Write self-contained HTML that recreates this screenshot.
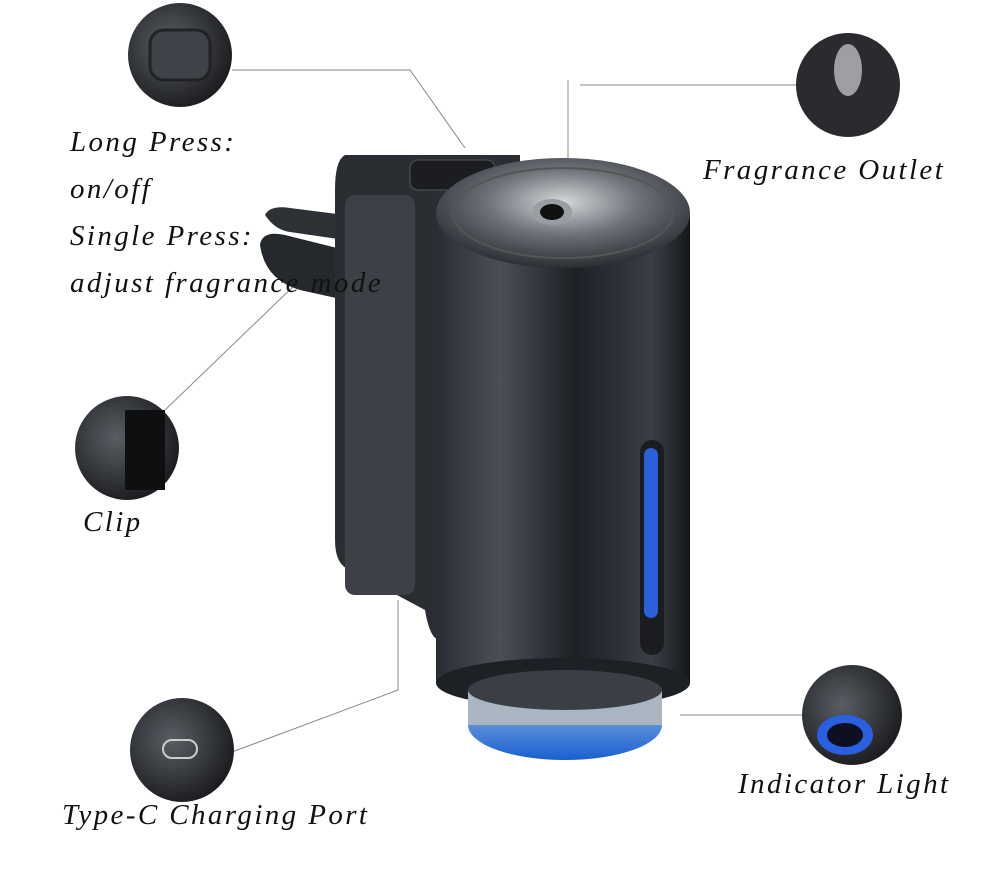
<!DOCTYPE html>
<html><head><style>
body{margin:0;background:#fff;}
.w{position:relative;width:1000px;height:875px;overflow:hidden;background:#fff;font-family:"Liberation Serif",serif;font-style:italic;color:#111;}
.t{position:absolute;font-size:29px;letter-spacing:2.4px;white-space:nowrap;}
</style></head><body><div class="w">
<svg width="1000" height="875" style="position:absolute;left:0;top:0">
<defs>
<linearGradient id="body" x1="0" x2="1">
<stop offset="0" stop-color="#2a2d33"/><stop offset="0.25" stop-color="#4a4f57"/><stop offset="0.55" stop-color="#1d2025"/><stop offset="0.85" stop-color="#3a3e45"/><stop offset="1" stop-color="#15171a"/></linearGradient>
<radialGradient id="top" cx="0.5" cy="0.4" r="0.6"><stop offset="0" stop-color="#d5d7da"/><stop offset="0.5" stop-color="#6d7178"/><stop offset="1" stop-color="#2b2e33"/></radialGradient>
<linearGradient id="blue" x1="0" y1="0" x2="0" y2="1"><stop offset="0" stop-color="#9fb4c8"/><stop offset="0.6" stop-color="#4d86d8"/><stop offset="1" stop-color="#1a5fd0"/></linearGradient>
<radialGradient id="c1" cx="0.4" cy="0.4" r="0.7"><stop offset="0" stop-color="#5a5e64"/><stop offset="1" stop-color="#141518"/></radialGradient>
</defs>
<g stroke="#888" stroke-width="1" fill="none">
<polyline points="232,70 410,70 465,148"/>
<line x1="568" y1="80" x2="568" y2="172"/><line x1="580" y1="85" x2="796" y2="85"/>
<line x1="165" y1="410" x2="300" y2="280"/>
<polyline points="232,752 398,690 398,600"/>
<line x1="680" y1="715" x2="802" y2="715"/>
</g>
<path d="M265,215 Q270,205 290,208 L345,215 L345,240 L290,232 Q275,230 265,215Z" fill="#2d3035"/>
<path d="M260,245 Q262,230 285,235 L345,250 L345,300 L300,290 Q265,280 260,245Z" fill="#25282c"/>
<path d="M345,155 L520,155 L520,640 L440,640 Q430,640 425,610 L350,570 Q335,565 335,540 L335,190 Q335,160 345,155Z" fill="#2a2d32"/>
<rect x="345" y="195" width="70" height="400" rx="10" fill="#3d4147"/>
<rect x="410" y="160" width="85" height="30" rx="8" fill="#1b1d21" stroke="#555" />
<rect x="436" y="213" width="254" height="470" fill="url(#body)"/>
<ellipse cx="563" cy="683" rx="127" ry="25" fill="#1d2024"/>
<ellipse cx="565" cy="725" rx="97" ry="35" fill="url(#blue)"/>
<rect x="468" y="690" width="194" height="35" fill="#a9b6c2"/>
<ellipse cx="565" cy="690" rx="97" ry="20" fill="#3a3f46"/>
<ellipse cx="563" cy="213" rx="127" ry="55" fill="url(#top)"/>
<ellipse cx="563" cy="213" rx="110" ry="45" fill="none" stroke="#555" stroke-width="2"/>
<ellipse cx="552" cy="212" rx="20" ry="13" fill="#9a9ea4"/>
<ellipse cx="552" cy="212" rx="12" ry="8" fill="#111"/>
<rect x="640" y="440" width="24" height="215" rx="12" fill="#1a1c20"/>
<rect x="644" y="448" width="14" height="170" rx="7" fill="#2a60d8"/>
<circle cx="180" cy="55" r="52" fill="url(#c1)"/>
<rect x="150" y="30" width="60" height="50" rx="14" fill="#3f4349" stroke="#222" stroke-width="3"/>
<circle cx="848" cy="85" r="52" fill="#2a2b2e"/>
<ellipse cx="848" cy="70" rx="14" ry="26" fill="#cfd2d6" opacity="0.7"/>
<circle cx="127" cy="448" r="52" fill="url(#c1)"/>
<rect x="125" y="410" width="40" height="80" fill="#0e0f11"/>
<circle cx="182" cy="750" r="52" fill="url(#c1)"/>
<rect x="163" y="740" width="34" height="18" rx="9" fill="none" stroke="#ccc" stroke-width="2"/>
<circle cx="852" cy="715" r="50" fill="url(#c1)"/>
<ellipse cx="845" cy="735" rx="28" ry="20" fill="#2a5fe0"/>
<ellipse cx="845" cy="735" rx="18" ry="12" fill="#0d1020"/>
</svg>
<div class="t" style="left:70px;top:126px">Long Press:</div>
<div class="t" style="left:70px;top:173px">on/off</div>
<div class="t" style="left:70px;top:220px">Single Press:</div>
<div class="t" style="left:70px;top:267px">adjust fragrance mode</div>
<div class="t" style="left:703px;top:154px">Fragrance Outlet</div>
<div class="t" style="left:83px;top:506px">Clip</div>
<div class="t" style="left:738px;top:768px">Indicator Light</div>
<div class="t" style="left:62px;top:799px">Type-C Charging Port</div>
</div></body></html>
